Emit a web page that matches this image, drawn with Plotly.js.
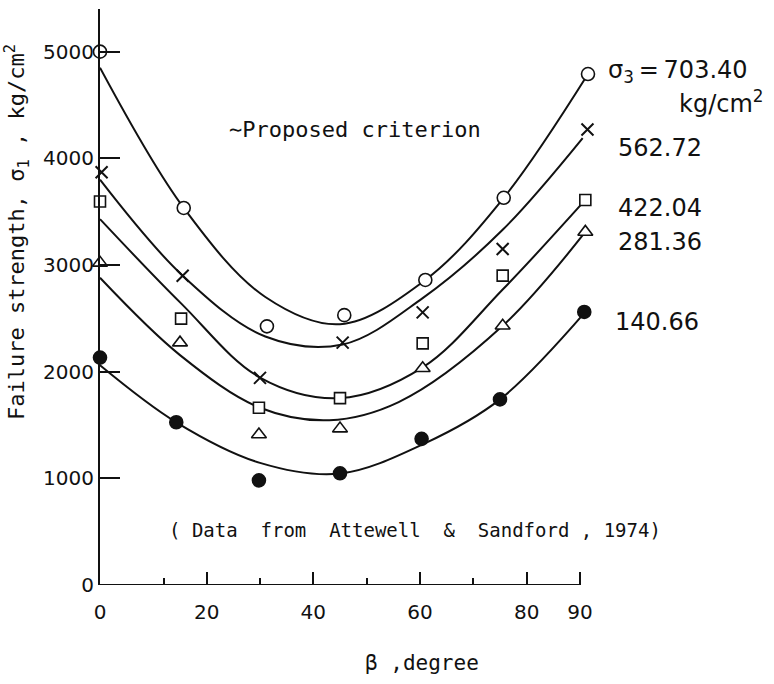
<!DOCTYPE html>
<html>
<head>
<meta charset="utf-8">
<script src="https://cdn.plot.ly/plotly-3.0.1.min.js"></script>
<style>
  html, body { margin: 0; padding: 0; background: #ffffff; }
  #chart { width: 774px; height: 684px; }
</style>
</head>
<body>
<div id="chart"></div>
<script>
// ---- tick values ----
const betaTicks = [0, 20, 40, 60, 80, 90];
const betaMinorTicks = [12, 30, 50, 70];
const strengthTicks = [0, 1000, 2000, 3000, 4000, 5000];

// ---- confining pressure labels (kg/cm2) ----
const sigma3Labels = ['703.40', '562.72', '422.04', '281.36', '140.66'];

// ---- observed data (Attewell & Sandford, 1974) ----
const obs703X = [0, 15.7, 31.3, 45.8, 61, 75.7, 91.5];
const obs703Y = [5000, 3535, 2425, 2530, 2860, 3630, 4790];
const obs562X = [0.3, 15.5, 30, 45.5, 60.5, 75.5, 91.4];
const obs562Y = [3870, 2900, 1942, 2272, 2556, 3150, 4270];
const obs422X = [0, 15.2, 29.8, 45, 60.5, 75.5, 91];
const obs422Y = [3595, 2497, 1662, 1752, 2265, 2900, 3610];
const obs281X = [0, 15, 29.8, 45, 60.5, 75.5, 91];
const obs281Y = [3020, 2272, 1411, 1466, 2032, 2430, 3310];
const obs140X = [0, 14.3, 29.8, 45, 60.3, 75, 90.8];
const obs140Y = [2132, 1526, 981, 1047, 1370, 1740, 2560];

// ---- proposed criterion curves ----
const crv703X = [0, 15.7, 31, 45, 61, 75.7, 91.5];
const crv703Y = [4850, 3535, 2700, 2445, 2860, 3630, 4790];
const crv562X = [0, 15.5, 31, 45.5, 60.5, 75.5, 90.5];
const crv562Y = [3800, 2900, 2330, 2255, 2690, 3330, 4190];
const crv422X = [0, 15.2, 30, 45, 60.5, 75.5, 91];
const crv422Y = [3430, 2640, 1945, 1752, 2040, 2770, 3610];
const crv281X = [0, 15, 30, 43, 56, 75.5, 91];
const crv281Y = [2880, 2155, 1662, 1545, 1715, 2430, 3310];
const crv140X = [0, 14.3, 30, 45, 61, 75, 91];
const crv140Y = [2060, 1525, 1145, 1045, 1330, 1740, 2560];

const INK = '#111111';
const SANS = 'DejaVu Sans, Liberation Sans, sans-serif';
const MONO = 'DejaVu Sans Mono, Liberation Mono, monospace';

function curve(x, y) {
  return { x: x, y: y, mode: 'lines', type: 'scatter',
           line: { color: INK, width: 2, shape: 'spline', smoothing: 1 },
           hoverinfo: 'skip', showlegend: false };
}
function points(x, y, symbol, size, fill, name) {
  return { x: x, y: y, mode: 'markers', type: 'scatter', name: name,
           cliponaxis: false, showlegend: false,
           marker: { symbol: symbol, size: size, color: fill,
                     line: { color: INK, width: symbol === 'x-thin-open' ? 2 : 1.6 } } };
}

const traces = [
  curve(crv703X, crv703Y),
  curve(crv562X, crv562Y),
  curve(crv422X, crv422Y),
  curve(crv281X, crv281Y),
  curve(crv140X, crv140Y),
  points(obs703X, obs703Y, 'circle', 13, '#ffffff', sigma3Labels[0]),
  points(obs562X, obs562Y, 'x-thin-open', 12, INK, sigma3Labels[1]),
  points(obs422X, obs422Y, 'square', 11, '#ffffff', sigma3Labels[2]),
  points(obs281X, obs281Y, 'triangle-up', 13, '#ffffff', sigma3Labels[3]),
  points(obs140X, obs140Y, 'circle', 13, INK, sigma3Labels[4])
];

function label(text, x, y, family, size, opts) {
  return Object.assign({ text: text, x: x, y: y, xref: 'paper', yref: 'paper',
    xanchor: 'left', yanchor: 'middle', showarrow: false,
    font: { family: family, size: size, color: INK } }, opts || {});
}

const layout = {
  width: 774, height: 684,
  margin: { l: 100, r: 178, t: 9, b: 99 },
  paper_bgcolor: '#ffffff', plot_bgcolor: '#ffffff',
  showlegend: false,
  font: { family: SANS, size: 20, color: INK },
  xaxis: {
    range: [0, 93], showgrid: false, zeroline: false, showline: false,
    tickmode: 'array', tickvals: betaTicks, ticktext: betaTicks.map(String),
    ticks: 'inside', ticklen: 13, tickwidth: 2, tickcolor: INK,
    ticklabelstandoff: 13,
    tickfont: { family: SANS, size: 20, color: INK },
    minor: { tickmode: 'array', tickvals: betaMinorTicks, ticks: 'inside', ticklen: 7, tickwidth: 2, tickcolor: INK, showgrid: false }
  },
  yaxis: {
    range: [0, 5400], showgrid: false, zeroline: false,
    showline: true, linecolor: INK, linewidth: 2,
    tickmode: 'array', tickvals: strengthTicks, ticktext: strengthTicks.map(String),
    ticks: 'inside', ticklen: 20, tickwidth: 2, tickcolor: INK,
    ticklabelstandoff: 0,
    tickfont: { family: SANS, size: 20, color: INK }
  },
  shapes: [
    { type: 'line', xref: 'x', yref: 'y', x0: betaTicks[0], x1: betaTicks[betaTicks.length - 1],
      y0: 0, y1: 0, line: { color: INK, width: 2 } }
  ],
  annotations: [
    label('∼Proposed criterion', 0.256, 0.790, MONO, 22),
    label('σ<sub>3</sub>\u2009=\u2009' + sigma3Labels[0], 1.020, 0.891, SANS, 24),
    label('kg/cm<sup>2</sup>', 1.163, 0.839, SANS, 24),
    label(sigma3Labels[1], 1.040, 0.759, SANS, 24),
    label(sigma3Labels[2], 1.040, 0.655, SANS, 24),
    label(sigma3Labels[3], 1.040, 0.5955, SANS, 24),
    label(sigma3Labels[4], 1.034, 0.4566, SANS, 24),
    label('( Data  from  Attewell  &  Sandford , 1974)', 0.135, 0.0955, MONO, 19),
    label('β ,degree', 0.530, -0.135, MONO, 21),
    label('Failure strength, σ<sub>1</sub> , kg/cm<sup>2</sup>', -0.167, 0.613, MONO, 22,
          { xanchor: 'center', yanchor: 'middle', textangle: -90 })
  ]
};

Plotly.newPlot('chart', traces, layout, { displayModeBar: false, staticPlot: true });
</script>
</body>
</html>
